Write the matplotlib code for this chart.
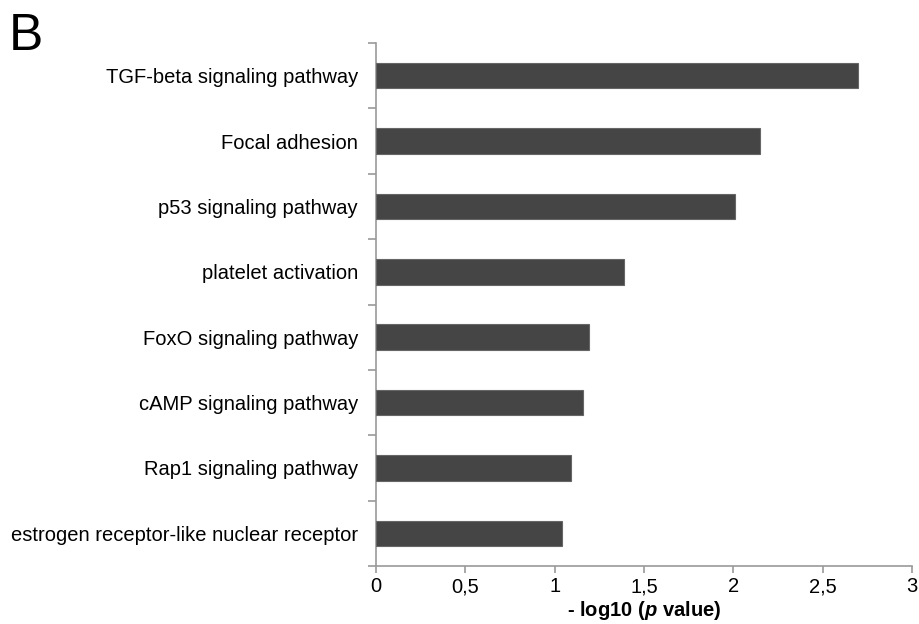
import matplotlib.pyplot as plt
import numpy as np

# KEGG pathway enrichment
pathways = [
    "TGF-beta signaling pathway",
    "Focal adhesion",
    "p53 signaling pathway",
    "platelet activation",
    "FoxO signaling pathway",
    "cAMP signaling pathway",
    "Rap1 signaling pathway",
    "estrogen receptor-like nuclear receptor",
]
neg_log_p = [2.70, 2.15, 2.01, 1.39, 1.19, 1.16, 1.09, 1.04]
x_ticks = [0, 0.5, 1, 1.5, 2, 2.5, 3]
x_tick_labels = ["0", "0,5", "1", "1,5", "2", "2,5", "3"]

plt.rcParams['font.family'] = ['Liberation Sans', 'DejaVu Sans']
plt.rcParams['mathtext.fontset'] = 'custom'
plt.rcParams['mathtext.it'] = 'Liberation Sans:italic:bold'

fig = plt.figure(figsize=(9.2, 6.24), dpi=100)
ax = fig.add_axes([376 / 920, 1 - 566 / 624, 536 / 920, 523 / 624])

axis_grey = "#9a9a9a"
ypos = np.arange(len(pathways))
ax.barh(ypos, neg_log_p, height=0.39, color="#454545",
        edgecolor="#666666", linewidth=0.8, zorder=3)

ax.set_xlim(0, 3)
ax.set_ylim(len(pathways) - 0.5, -0.5)

ax.set_xticks(x_ticks)
ax.set_xticklabels(x_tick_labels)
ax.set_yticks(ypos)
ax.set_yticklabels(pathways)
# separators between categories
ax.set_yticks(np.arange(-0.5, len(pathways), 1), minor=True)

ax.tick_params(axis='y', which='major', length=0, pad=13, labelsize=14.5)
ax.tick_params(axis='y', which='minor', length=6, width=1.2, color=axis_grey)
ax.tick_params(axis='x', which='major', length=5, width=1.2, color=axis_grey,
               pad=3, labelsize=14.5)

for side in ['top', 'right']:
    ax.spines[side].set_visible(False)
for side in ['left', 'bottom']:
    ax.spines[side].set_color(axis_grey)
    ax.spines[side].set_linewidth(1.2)

ax.set_xlabel("- log10 ($p$ value)", fontsize=14.5, fontweight='bold', labelpad=2)

fig.text(9 / 920, 1 - 50 / 624, "B", fontsize=37, ha='left', va='baseline')

fig.savefig("out.png", dpi=100)
